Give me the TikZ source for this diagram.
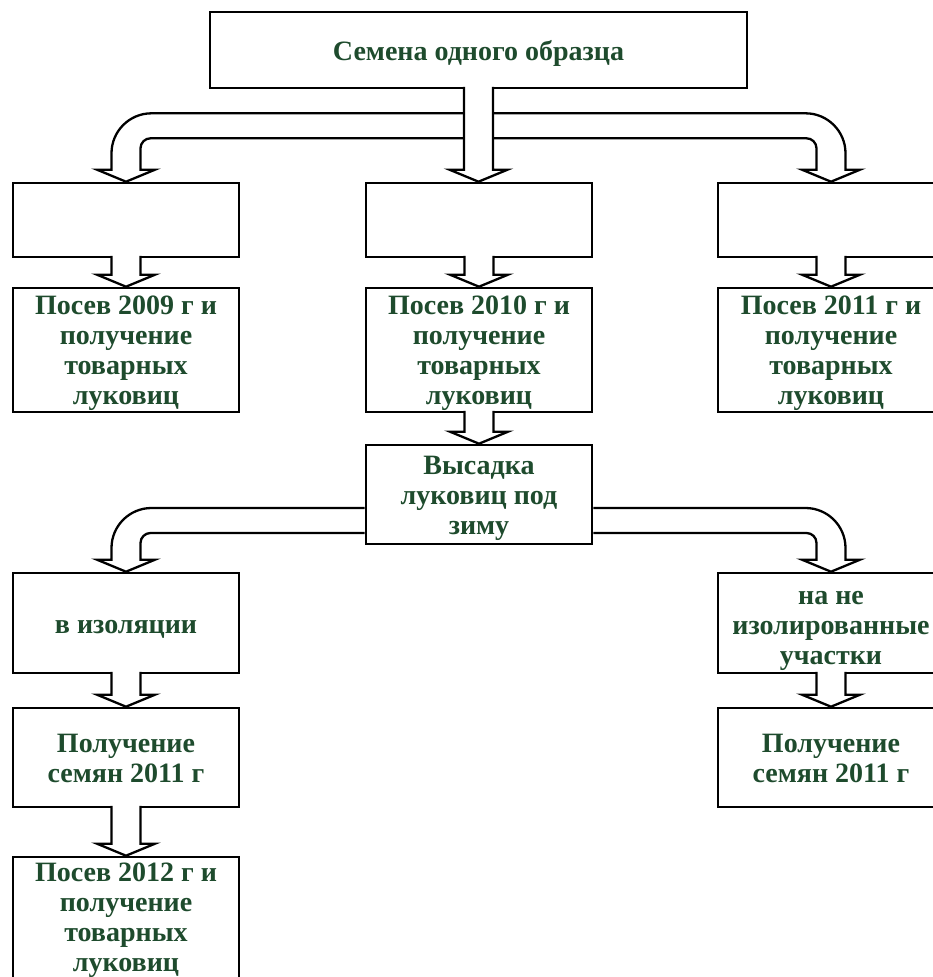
\documentclass[tikz,border=0pt]{standalone}
\usepackage{fontspec}
\setmainfont{Liberation Serif}
\usetikzlibrary{calc}
\definecolor{txtgreen}{RGB}{30,75,45}
\newcommand\boxtext[2][-4pt]{\raisebox{#1}[\height][\depth]{\begin{tabular}{@{}c@{}}#2\end{tabular}}}
\tikzset{
  box/.style={draw=black, line width=2.6pt, fill=white, minimum width=226pt,
    text=txtgreen, font=\fontsize{28}{30}\selectfont\bfseries, inner sep=0pt},
  arr/.style={draw=black, line width=2.3pt, fill=white, line join=miter},
}
\newcommand\varrow[2]{%
  \path[arr] let \p1=(#1), \p2=(#2) in
  (\x1-14.5pt,\y1+2.5pt) -- (\x1-14.5pt,\y2+12pt) -- (\x1-29pt,\y2+12pt) -- (\x1,\y2)
  -- (\x1+29pt,\y2+12pt) -- (\x1+14.5pt,\y2+12pt) -- (\x1+14.5pt,\y1+2.5pt);}
\newcommand\lbranch[2]{%
  \path[arr] let \p1=(#1), \p2=(#2.north) in
  (\x1,\y1) -- (\x2+25.5pt,\y1) arc[start angle=90,end angle=180,radius=40pt]
  -- (\x2-14.5pt,\y2+12pt) -- (\x2-29pt,\y2+12pt) -- (\x2,\y2) -- (\x2+29pt,\y2+12pt)
  -- (\x2+14.5pt,\y2+12pt) -- (\x2+14.5pt,\y1-35pt) arc[start angle=180,end angle=90,radius=10pt]
  -- (\x1,\y1-25pt);}
\newcommand\rbranch[2]{%
  \path[arr] let \p1=(#1), \p2=(#2.north) in
  (\x1,\y1) -- (\x2-25.5pt,\y1) arc[start angle=90,end angle=0,radius=40pt]
  -- (\x2+14.5pt,\y2+12pt) -- (\x2+29pt,\y2+12pt) -- (\x2,\y2) -- (\x2-29pt,\y2+12pt)
  -- (\x2-14.5pt,\y2+12pt) -- (\x2-14.5pt,\y1-35pt) arc[start angle=0,end angle=90,radius=10pt]
  -- (\x1,\y1-25pt);}
\begin{document}
\begin{tikzpicture}[x=1pt,y=-1pt]
\useasboundingbox (0,0) rectangle (933,977);
\clip (0,0) rectangle (933,977);
% boxes
\node[box, minimum width=537pt, minimum height=76pt] (top) at (478.5,50) {\boxtext{Семена одного образца}};
\node[box, minimum height=74pt] (e1) at (126,220) {};
\node[box, minimum height=74pt] (e2) at (479,220) {};
\node[box, minimum height=74pt] (e3) at (831,220) {};
\node[box, minimum height=124pt] (p1) at (126,350) {\boxtext[-3pt]{Посев 2009 г и\\получение\\товарных\\луковиц}};
\node[box, minimum height=124pt] (p2) at (479,350) {\boxtext[-3pt]{Посев 2010 г и\\получение\\товарных\\луковиц}};
\node[box, minimum height=124pt] (p3) at (831,350) {\boxtext[-3pt]{Посев 2011 г и\\получение\\товарных\\луковиц}};
\node[box, minimum height=99pt] (vys) at (479,494.5) {\boxtext{Высадка\\луковиц под\\зиму}};
\node[box, minimum height=100pt] (iso) at (126,623) {\boxtext{в изоляции}};
\node[box, minimum height=100pt] (noiso) at (831,623) {\boxtext[-5pt]{на не\\изолированные\\участки}};
\node[box, minimum height=99pt] (sem1) at (126,757.5) {\boxtext{Получение\\семян 2011 г}};
\node[box, minimum height=99pt] (sem2) at (831,757.5) {\boxtext{Получение\\семян 2011 г}};
\node[box, minimum height=124pt] (p4) at (126,919) {\boxtext[-1pt]{Посев 2012 г и\\получение\\товарных\\луковиц}};
% arrows from top box
\lbranch{$(top.south)+(-14.5,24)$}{e1}
\rbranch{$(top.south)+(14.5,24)$}{e3}
\varrow{top.south}{e2.north}
% straight arrows
\varrow{e1.south}{p1.north}
\varrow{e2.south}{p2.north}
\varrow{e3.south}{p3.north}
\varrow{p2.south}{vys.north}
\varrow{iso.south}{sem1.north}
\varrow{sem1.south}{p4.north}
\varrow{noiso.south}{sem2.north}
% branches from vys
\lbranch{$(vys.west)+(0,13.5)$}{iso}
\rbranch{$(vys.east)+(0,13.5)$}{noiso}
\end{tikzpicture}
\end{document}
